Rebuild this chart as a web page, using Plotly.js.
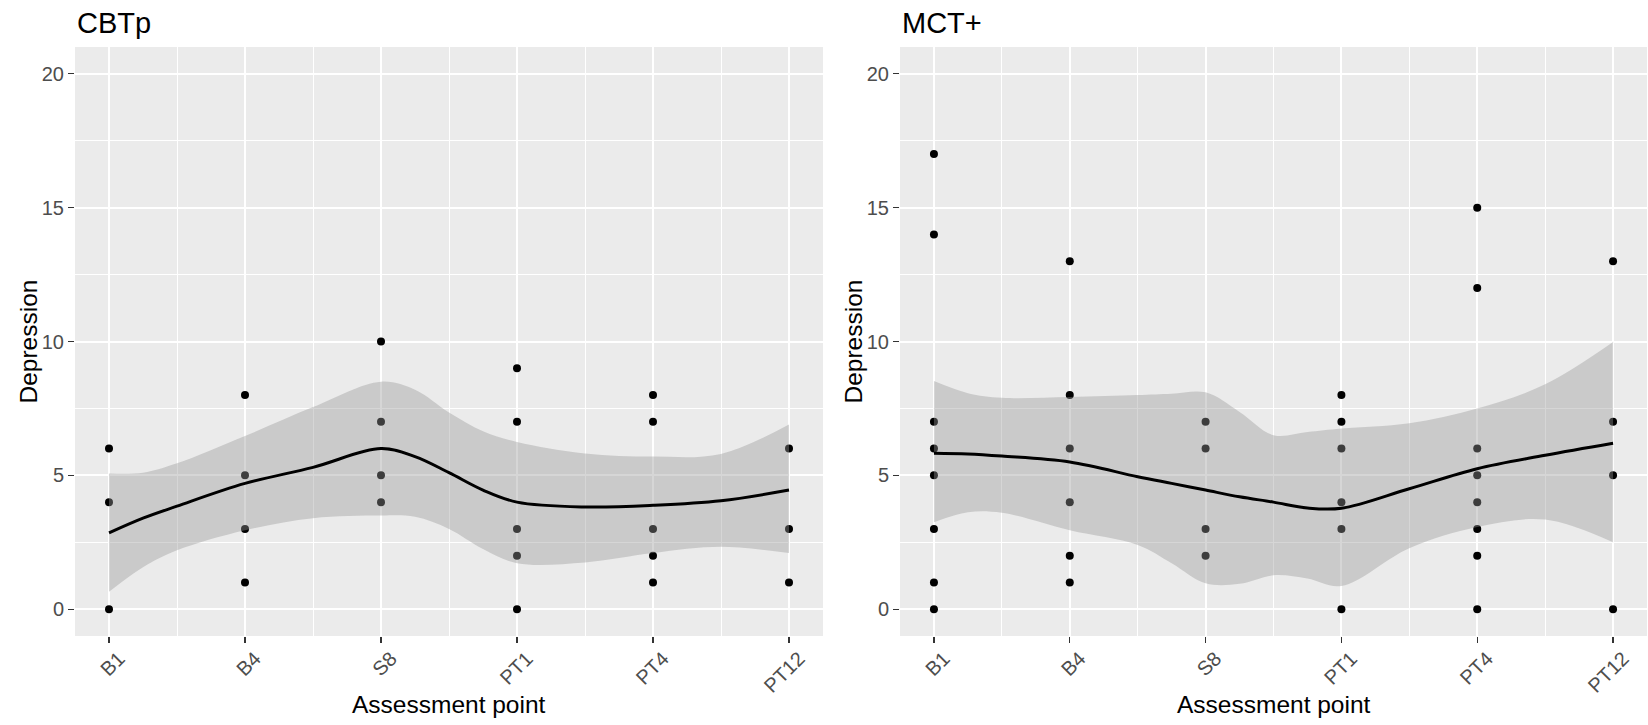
<!DOCTYPE html>
<html>
<head>
<meta charset="utf-8">
<script src="https://cdn.plot.ly/plotly-3.0.1.min.js"></script>
<style>
  html, body { margin: 0; padding: 0; background: #ffffff; }
  #chart { width: 1648px; height: 725px; }
</style>
</head>
<body>
<div id="chart"></div>
<script>
// Categories (assessment points) at positions 1..6
const categories = ["B1", "B4", "S8", "PT1", "PT4", "PT12"];
const catPos = [1, 2, 3, 4, 5, 6];

// CBTp raw points
const cbtpX = [1, 1, 1, 2, 2, 2, 2, 3, 3, 3, 3, 4, 4, 4, 4, 4, 5, 5, 5, 5, 5, 6, 6, 6];
const cbtpY = [6, 4, 0, 8, 5, 3, 1, 10, 7, 5, 4, 9, 7, 3, 2, 0, 8, 7, 3, 2, 1, 6, 3, 1];

// MCT+ raw points
const mctX = [1, 1, 1, 1, 1, 1, 1, 1, 2, 2, 2, 2, 2, 2, 3, 3, 3, 3, 4, 4, 4, 4, 4, 4, 5, 5, 5, 5, 5, 5, 5, 5, 6, 6, 6, 6];
const mctY = [17, 14, 7, 6, 5, 3, 1, 0, 13, 8, 6, 4, 2, 1, 7, 6, 3, 2, 8, 7, 6, 4, 3, 0, 15, 12, 6, 5, 4, 3, 2, 0, 13, 7, 5, 0];

// CBTp smooth (loess) fit and confidence band
const cbtpSmX   = [1,    1.25, 1.5,  2,    2.5,  3,    3.25, 3.5,  3.75, 4,    4.5,  5,    5.5,  6];
const cbtpFit   = [2.85, 3.4,  3.85, 4.7,  5.3,  6.0,  5.7,  5.1,  4.45, 4.0,  3.82, 3.88, 4.05, 4.45];
const cbtpUpper = [5.07, 5.1,  5.45, 6.47, 7.55, 8.5,  8.2,  7.35, 6.65, 6.25, 5.82, 5.7,  5.8,  6.9];
const cbtpLower = [0.65, 1.57, 2.2,  2.95, 3.4,  3.5,  3.45, 3.0,  2.25, 1.72, 1.75, 2.1,  2.33, 2.1];

// MCT+ smooth (loess) fit and confidence band
const mctSmX   = [1,    1.25, 1.5,  2,    2.5,  2.75, 3,    3.25, 3.5,  3.75, 4,    4.5,  5,    5.5,  6];
const mctFit   = [5.83, 5.8,  5.72, 5.5,  4.95, 4.7,  4.45, 4.2,  4.0,  3.78, 3.77, 4.5,  5.25, 5.75, 6.2];
const mctUpper = [8.52, 8.07, 7.9,  7.93, 8.0,  8.05, 8.1,  7.37, 6.5,  6.62, 6.75, 6.95, 7.5,  8.4,  9.98];
const mctLower = [3.25, 3.62, 3.6,  2.95, 2.4,  1.72, 0.97, 0.95, 1.27, 1.15, 0.87, 2.28, 3.07, 3.35, 2.5];

// Axis ticks
const yTicks = [0, 5, 10, 15, 20];
const yMinor = [2.5, 7.5, 12.5, 17.5];
const xMinor = [1.5, 2.5, 3.5, 4.5, 5.5];

// Text
const panelTitles = ["CBTp", "MCT+"];
const xTitle = "Assessment point";
const yTitle = "Depression";

const W = 1648, H = 725;
const ribbonFill = "rgba(153,153,153,0.4)";
const FAM = "Liberation Sans, Arial, sans-serif";

function panelTraces(px, py, sx, fit, up, lo, xa, ya) {
  return [
    { type: "scatter", mode: "markers", x: px, y: py, xaxis: xa, yaxis: ya,
      marker: { color: "#000000", size: 8 }, hoverinfo: "x+y", showlegend: false },
    { type: "scatter", mode: "lines", x: sx, y: lo, xaxis: xa, yaxis: ya,
      line: { width: 0, shape: "spline", color: "rgba(0,0,0,0)" }, showlegend: false, hoverinfo: "skip" },
    { type: "scatter", mode: "lines", x: sx, y: up, xaxis: xa, yaxis: ya, fill: "tonexty",
      fillcolor: ribbonFill, line: { width: 0, shape: "spline", color: "rgba(0,0,0,0)" },
      showlegend: false, hoverinfo: "skip" },
    { type: "scatter", mode: "lines", x: sx, y: fit, xaxis: xa, yaxis: ya,
      line: { width: 3, shape: "spline", color: "#000000" }, showlegend: false }
  ];
}

const data = [].concat(
  panelTraces(cbtpX, cbtpY, cbtpSmX, cbtpFit, cbtpUpper, cbtpLower, "x", "y"),
  panelTraces(mctX, mctY, mctSmX, mctFit, mctUpper, mctLower, "x2", "y2")
);

const tickFont = { family: FAM, size: 20, color: "#4D4D4D" };
const titleFont = { family: FAM, size: 24.5, color: "#000000" };

function xAxis(domain, anchor) {
  return {
    domain: domain, anchor: anchor, range: [0.75, 6.25],
    tickmode: "array", tickvals: catPos, ticktext: categories, tickangle: -45,
    ticklabelshift: 10, ticklabelstandoff: -4,
    showgrid: true, gridcolor: "#FFFFFF", gridwidth: 2,
    minor: { tickmode: "array", tickvals: xMinor, showgrid: true, gridcolor: "#FFFFFF", gridwidth: 1, ticks: "" },
    zeroline: false, showline: false,
    ticks: "outside", ticklen: 6, tickwidth: 1.2, tickcolor: "#333333",
    tickfont: tickFont, automargin: false,
    title: { text: "" }
  };
}
function yAxis(domain, anchor) {
  return {
    domain: domain, anchor: anchor, range: [-1, 21],
    tickmode: "array", tickvals: yTicks,
    showgrid: true, gridcolor: "#FFFFFF", gridwidth: 2,
    minor: { tickmode: "array", tickvals: yMinor, showgrid: true, gridcolor: "#FFFFFF", gridwidth: 1, ticks: "" },
    zeroline: false, showline: false,
    ticks: "outside", ticklen: 6, tickwidth: 1.2, tickcolor: "#333333",
    tickfont: tickFont, automargin: false,
    title: { text: "" }
  };
}

const pxL = [75, 823], pxR = [900, 1647];
const pyTop = 47, pyBot = 636;
const yDom = [(H - pyBot) / H, (H - pyTop) / H];

function ann(text, xpx, ypx, opts) {
  return Object.assign({ text: text, xref: "paper", yref: "paper", x: xpx / W, y: 1 - ypx / H,
    showarrow: false, xanchor: "center", yanchor: "middle" }, opts);
}

const layout = {
  width: W, height: H,
  margin: { l: 0, r: 0, t: 0, b: 0 },
  paper_bgcolor: "#FFFFFF", plot_bgcolor: "#EBEBEB",
  font: { family: FAM },
  showlegend: false,
  xaxis: xAxis([pxL[0] / W, pxL[1] / W], "y"),
  yaxis: yAxis(yDom, "x"),
  xaxis2: xAxis([pxR[0] / W, pxR[1] / W], "y2"),
  yaxis2: yAxis(yDom, "x2"),
  annotations: [
    ann(panelTitles[0], pxL[0], 23, { xanchor: "left", font: { family: FAM, size: 29, color: "#000000" } }),
    ann(panelTitles[1], pxR[0], 23, { xanchor: "left", font: { family: FAM, size: 29, color: "#000000" } }),
    ann(xTitle, (pxL[0] + pxL[1]) / 2, 704, { font: titleFont }),
    ann(xTitle, (pxR[0] + pxR[1]) / 2, 704, { font: titleFont }),
    ann(yTitle, pxL[0] - 47, (pyTop + pyBot) / 2, { textangle: -90, font: titleFont }),
    ann(yTitle, pxR[0] - 47, (pyTop + pyBot) / 2, { textangle: -90, font: titleFont })
  ]
};

Plotly.newPlot("chart", data, layout, { displayModeBar: false, staticPlot: true });
</script>
</body>
</html>
